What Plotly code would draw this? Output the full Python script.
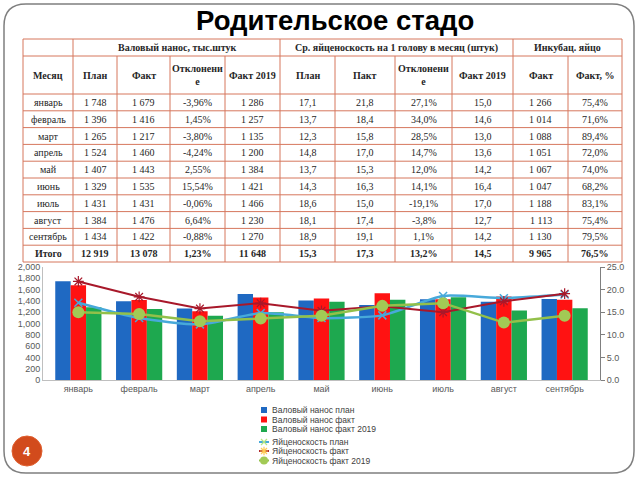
import plotly.graph_objects as go

# ---------------- data ----------------
months = ["январь", "февраль", "март", "апрель", "май", "июнь", "июль", "август", "сентябрь"]
gross_plan = [1748, 1396, 1265, 1524, 1407, 1329, 1431, 1384, 1434]
gross_fact = [1679, 1416, 1217, 1460, 1443, 1535, 1431, 1476, 1422]
gross_dev = [-3.96, 1.45, -3.80, -4.24, 2.55, 15.54, -0.06, 6.64, -0.88]
gross_2019 = [1286, 1257, 1135, 1200, 1384, 1421, 1466, 1230, 1270]
egg_plan = [17.1, 13.7, 12.3, 14.8, 13.7, 14.3, 18.6, 18.1, 18.9]
egg_fact = [21.8, 18.4, 15.8, 17.0, 15.3, 16.3, 15.0, 17.4, 19.1]
egg_dev = [27.1, 34.0, 28.5, 14.7, 12.0, 14.1, -19.1, -3.8, 1.1]
egg_2019 = [15.0, 14.6, 13.0, 13.6, 14.2, 16.4, 17.0, 12.7, 14.2]
inc_fact = [1266, 1014, 1088, 1051, 1067, 1047, 1188, 1113, 1130]
inc_pct = [75.4, 71.6, 89.4, 72.0, 74.0, 68.2, 83.1, 75.4, 79.5]
total_label = "Итого"
totals = [12919, 13078, 1.23, 11648, 15.3, 17.3, 13.2, 14.5, 9965, 76.5]

title = "Родительское стадо"
group_headers = ["Валовый нанос, тыс.штук", "Ср. яйценоскость на 1 голову в месяц (штук)", "Инкубац. яйцо"]
group_spans = [4, 4, 2]
col_headers = ["Месяц", "План", "Факт", "Отклонени<br>е", "Факт 2019", "План", "Пакт",
               "Отклонени<br>е", "Факт 2019", "Факт", "Факт, %"]
legend_names = ["Валовый нанос план", "Валовый нанос факт", "Валовый нанос факт 2019",
                "Яйценоскость план", "Яйценоскость факт", "Яйценоскость факт 2019"]
page_number = "4"

# ---------------- styles ----------------
BLUE, RED, GREEN = "#1F69C2", "#FF1212", "#1EA84F"
L_BLUE, L_RED, L_GREEN = "#47A9DA", "#A8182A", "#93C04A"
TABLE_LINE = "#D6775D"
SERIF = "Liberation Serif"
SANS = "Liberation Sans"


def f_int(v):
    return f"{v:,}".replace(",", " ")


def f_pct(d):
    return lambda v: f"{v:.{d}f}".replace(".", ",") + "%"


def f_dec(v):
    return f"{v:.1f}".replace(".", ",")


col_fmt = [f_int, f_int, f_pct(2), f_int, f_dec, f_dec, f_pct(1), f_dec, f_int, f_pct(1)]
columns = [gross_plan, gross_fact, gross_dev, gross_2019, egg_plan, egg_fact, egg_dev, egg_2019, inc_fact, inc_pct]

fig = go.Figure()

# bars
for vals, col, nm in zip([gross_plan, gross_fact, gross_2019], [BLUE, RED, GREEN], legend_names[:3]):
    fig.add_bar(x=months, y=vals, name=nm, marker=dict(color=col, line=dict(width=0)), xaxis="x", yaxis="y")

# lines
fig.add_scatter(x=months, y=egg_plan, name=legend_names[3], yaxis="y2", xaxis="x", mode="lines+markers",
                line=dict(color=L_BLUE, width=2.5, shape="spline", smoothing=0.6),
                marker=dict(symbol="x-thin-open", size=8, line=dict(color=L_BLUE, width=1.5)))
fig.add_scatter(x=months, y=egg_fact, name=legend_names[4], yaxis="y2", xaxis="x", mode="lines+markers",
                line=dict(color=L_RED, width=2),
                marker=dict(symbol="asterisk-open", size=9, line=dict(color=L_RED, width=1.2)))
fig.add_scatter(x=months, y=egg_2019, name=legend_names[5], yaxis="y2", xaxis="x", mode="lines+markers",
                line=dict(color=L_GREEN, width=2.5),
                marker=dict(symbol="circle", size=12, color="#A2CA55", line=dict(width=0)))

shapes = []
annotations = []

# slide border (pixel coords via overlay axes x3/y3)
X0, Y0, X1, Y1, R = 4, 4, 634, 473, 22
path = (f"M {X0+R},{Y0} L {X1-R},{Y0} Q {X1},{Y0} {X1},{Y0+R} L {X1},{Y1-R} Q {X1},{Y1} {X1-R},{Y1} "
        f"L {X0+R},{Y1} Q {X0},{Y1} {X0},{Y1-R} L {X0},{Y0+R} Q {X0},{Y0} {X0+R},{Y0} Z")
shapes.append(dict(type="path", path=path, xref="x3", yref="y3", line=dict(color="#7F7F7F", width=1.5)))

# title
annotations.append(dict(text=f"<b>{title}</b>", x=335, y=20, xref="x3", yref="y3", showarrow=False,
                        font=dict(family=SANS, size=27.5, color="black"), xanchor="center", yanchor="middle"))

# table geometry
col_w = [50, 44, 53, 55, 55, 55, 60, 57, 61, 55, 54]
tx0, ty0 = 23, 39
xs = [tx0]
for w in col_w:
    xs.append(xs[-1] + w)
row_h = [17, 38] + [16.8] * 10
ys = [ty0]
for h in row_h:
    ys.append(ys[-1] + h)

for yv in ys:
    shapes.append(dict(type="line", xref="x3", yref="y3", x0=xs[0], x1=xs[-1], y0=yv, y1=yv,
                       line=dict(color=TABLE_LINE, width=1)))
# vertical lines
grp_bounds = [0, 1]
acc = 1
for s in group_spans:
    acc += s
    grp_bounds.append(acc)
for i, xv in enumerate(xs):
    top = ys[0] if i in grp_bounds else ys[1]
    shapes.append(dict(type="line", xref="x3", yref="y3", x0=xv, x1=xv, y0=top, y1=ys[-1],
                       line=dict(color=TABLE_LINE, width=1)))

TXT = "#262626"
for g, txt in enumerate(group_headers):
    cx = (xs[grp_bounds[g + 1]] + xs[grp_bounds[g + 2]]) / 2
    annotations.append(dict(text=f"<b>{txt}</b>", x=cx, y=(ys[0] + ys[1]) / 2, xref="x3", yref="y3",
                            showarrow=False, font=dict(family=SERIF, size=10, color=TXT)))
for c, txt in enumerate(col_headers):
    cx = (xs[c] + xs[c + 1]) / 2
    annotations.append(dict(text=f"<b>{txt}</b>", x=cx, y=(ys[1] + ys[2]) / 2, xref="x3", yref="y3",
                            showarrow=False, font=dict(family=SERIF, size=10, color=TXT)))
for r in range(len(months) + 1):
    cy = (ys[2 + r] + ys[3 + r]) / 2
    bold = r == len(months)
    cells = [total_label] + [col_fmt[k](totals[k]) for k in range(10)] if bold else \
        [months[r]] + [col_fmt[k](columns[k][r]) for k in range(10)]
    for c, txt in enumerate(cells):
        cx = (xs[c] + xs[c + 1]) / 2
        annotations.append(dict(text=f"<b>{txt}</b>" if bold else txt, x=cx, y=cy, xref="x3", yref="y3",
                                showarrow=False, font=dict(family=SERIF, size=10, color=TXT)))

# manual legend
leg_rows = [410, 419.5, 429, 442, 451, 460.5]
for i, (nm, col) in enumerate(zip(legend_names[:3], [BLUE, RED, GREEN])):
    yv = leg_rows[i]
    shapes.append(dict(type="rect", xref="x3", yref="y3", x0=261, x1=267, y0=yv - 3, y1=yv + 3,
                       fillcolor=col, line=dict(width=0)))
line_specs = [(L_BLUE, "x-thin-open", 6, None), (L_RED, "asterisk-open", 7, None), (L_GREEN, "circle", 8, "#A2CA55")]
for i, (col, sym, sz, fill) in enumerate(line_specs):
    yv = leg_rows[3 + i]
    fig.add_scatter(x=[259, 269], y=[yv, yv], xaxis="x3", yaxis="y3", mode="lines",
                    line=dict(color=col, width=2), hoverinfo="skip", showlegend=False)
    mk = dict(symbol=sym, size=sz, line=dict(color=col, width=1.2))
    if fill:
        mk = dict(symbol=sym, size=sz, color=fill, line=dict(width=0))
    fig.add_scatter(x=[264], y=[yv], xaxis="x3", yaxis="y3", mode="markers", marker=mk,
                    hoverinfo="skip", showlegend=False)
for i, nm in enumerate(legend_names):
    annotations.append(dict(text=nm, x=270, y=leg_rows[i], xref="x3", yref="y3", showarrow=False,
                            xanchor="left", yanchor="middle", font=dict(family=SANS, size=8.5, color="#404040")))

# page badge
shapes.append(dict(type="circle", xref="x3", yref="y3", x0=12, x1=42, y0=436, y1=466,
                   fillcolor="#D24B1C", line=dict(color="#E06030", width=1)))
annotations.append(dict(text=f"<b>{page_number}</b>", x=27, y=451, xref="x3", yref="y3", showarrow=False,
                        font=dict(family=SANS, size=13, color="white")))

AX = "#BFBFBF"
TICK = dict(family=SANS, size=9, color="#595959")
fig.update_layout(
    width=640, height=480, margin=dict(l=0, r=0, t=0, b=0),
    paper_bgcolor="white", plot_bgcolor="rgba(0,0,0,0)", showlegend=False,
    barmode="group", bargap=0.24, bargroupgap=0,
    xaxis=dict(domain=[43 / 640, 600 / 640], anchor="y", showline=True, linecolor=AX, ticks="",
               tickfont=TICK, showgrid=False, automargin=False),
    yaxis=dict(domain=[1 - 380 / 480, 1 - 267 / 480], range=[0, 2000], dtick=200, tickformat=",",
               showline=True, linecolor=AX, showgrid=False, zeroline=False, tickfont=TICK, automargin=False),
    yaxis2=dict(overlaying="y", anchor="x", side="right", range=[0, 25], dtick=5, tickformat=".1f",
                ticks="outside", ticklen=4, tickcolor="#7F7F7F", showline=True, linecolor="#7F7F7F",
                showgrid=False, zeroline=False, tickfont=TICK, automargin=False),
    xaxis3=dict(domain=[0, 1], range=[0, 640], visible=False, anchor="y3", fixedrange=True),
    yaxis3=dict(domain=[0, 1], range=[480, 0], visible=False, anchor="x3", fixedrange=True),
    shapes=shapes, annotations=annotations,
)

fig.write_html("out.html", config={"displayModeBar": False},
               post_script="document.body.style.margin='0px';")
